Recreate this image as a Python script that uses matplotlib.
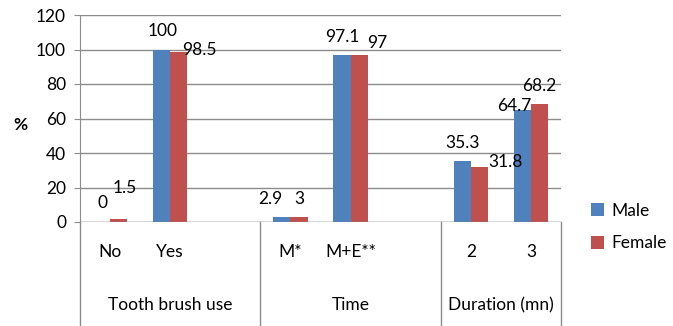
import numpy as np
import matplotlib
matplotlib.use("Agg")
import matplotlib.pyplot as plt
from matplotlib.transforms import blended_transform_factory

plt.rcParams["font.family"] = ["Lato", "DejaVu Sans"]

# survey answers, grouped by question
groups = ["Tooth brush use", "Time", "Duration (mn)"]
answers = [["No", "Yes"], ["M*", "M+E**"], ["2", "3"]]
male = [[0, 100], [2.9, 97.1], [35.3, 64.7]]
female = [[1.5, 98.5], [3, 97], [31.8, 68.2]]
series = ["Male", "Female"]

colors = ["#4F81BD", "#C0504D"]
grid_col = "#8C8C8C"
fs = 12.5

# label nudges (dx, dy in px from top centre of bar) where labels would collide
male_nudge = [[(1, 19), (1, 18)], [(-12, 18), (0, 18)], [(0, 18), (-8, 4)]]
female_nudge = [[(6, 31), (21, 2)], [(0, 18), (18, 12)], [(26, 5), (0, 18)]]

# flatten the groups, leaving an empty slot after every group but the last
pos, names, m_vals, f_vals, m_off, f_off = [], [], [], [], [], []
spans = []
x = 0
for g in range(len(groups)):
    start = x
    for k, name in enumerate(answers[g]):
        pos.append(x)
        names.append(name)
        m_vals.append(male[g][k])
        f_vals.append(female[g][k])
        m_off.append(male_nudge[g][k])
        f_off.append(female_nudge[g][k])
        x += 1
    if g < len(groups) - 1:
        x += 1
    spans.append((start - 0.5, x - 0.5))
n_slots = x
pos = np.array(pos)

W, H = 673, 326
fig = plt.figure(figsize=(W / 100, H / 100), dpi=100)
ax = fig.add_axes([80 / W, (H - 222) / H, (561 - 80) / W, (222 - 15) / H])

bw = 1 / 3.5
bars_m = ax.bar(pos - bw / 2, m_vals, bw, color=colors[0], label=series[0], zorder=3)
bars_f = ax.bar(pos + bw / 2, f_vals, bw, color=colors[1], label=series[1], zorder=3)

for bars, vals, offs in [(bars_m, m_vals, m_off), (bars_f, f_vals, f_off)]:
    for b, v, (dx, dy) in zip(bars, vals, offs):
        ax.annotate(f"{v:g}", (b.get_x() + b.get_width() / 2, v),
                    xytext=(dx * 0.72, dy * 0.72), textcoords="offset points",
                    ha="center", va="center", fontsize=fs, color="black")

ax.set_xlim(-0.5, n_slots - 0.5)
ax.set_ylim(0, 120)
ax.set_yticks(range(0, 121, 20))
ax.yaxis.grid(True, color=grid_col, linewidth=1)
ax.set_axisbelow(True)
ax.tick_params(axis="y", direction="out", length=4, color=grid_col, labelsize=fs, pad=6)
ax.set_xticks([])
for s in ["top", "right", "bottom"]:
    ax.spines[s].set_visible(False)
ax.spines["left"].set_color(grid_col)
ax.axhline(0, color=grid_col, linewidth=1, zorder=4)

# multi-level category axis below the plot
tr = blended_transform_factory(ax.transData, ax.transAxes)
bottom = -(H - 222) / (222 - 15)
edges = sorted({e for sp in spans for e in sp})
for e in edges:
    ax.plot([e, e], [0, bottom], color=grid_col, linewidth=1, transform=tr, clip_on=False)
for p, name in zip(pos, names):
    ax.text(p, -30 / 207, name, transform=tr, ha="center", va="center", fontsize=fs)
for (a, b), g in zip(spans, groups):
    ax.text((a + b) / 2, -83 / 207, g, transform=tr, ha="center", va="center", fontsize=fs)

fig.text(20 / W, 1 - 125 / H, "%", ha="center", va="center", fontsize=fs, fontweight="bold")

fig.legend(handles=[bars_m, bars_f], loc="center left", bbox_to_anchor=(591 / W, 1 - 227 / H),
           frameon=False, fontsize=fs, handlelength=0.75, handleheight=0.75,
           handletextpad=0.4, labelspacing=0.95, borderpad=0, borderaxespad=0)

fig.savefig("out.png", dpi=100)
